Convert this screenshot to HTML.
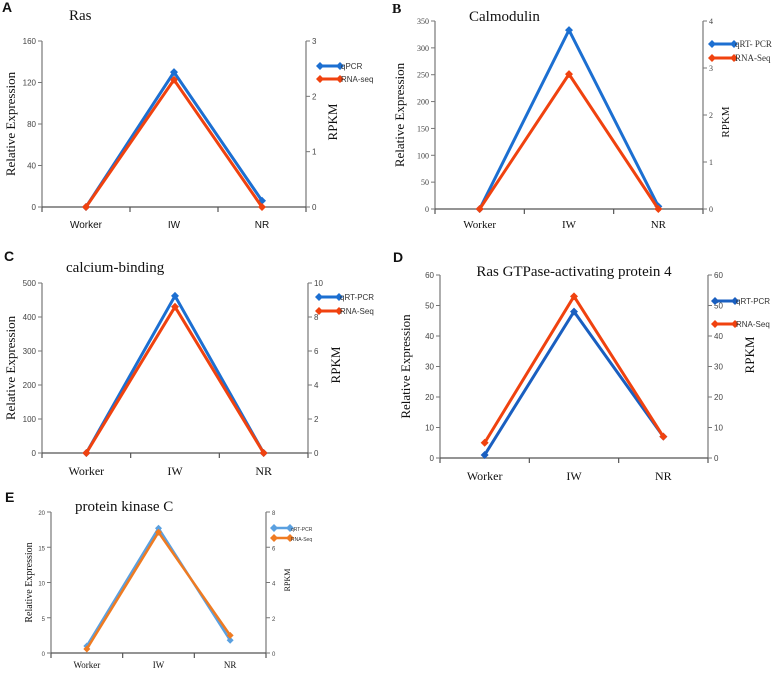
<!DOCTYPE html>
<html><head><meta charset="utf-8"><style>
body{margin:0;background:#fff;width:778px;height:670px;overflow:hidden}
svg text{font-family:"Liberation Serif",serif}
.s{font-family:"Liberation Sans",sans-serif !important}
</style></head><body>
<svg id="c" width="778" height="670" xmlns="http://www.w3.org/2000/svg"></svg>
<script>
const categories=["Worker","IW","NR"];
const qpcrA=[0,130,6], rnaA=[0,2.3,0];
const qpcrB=[0,333,5], rnaB=[0,2.87,0];
const qpcrC=[0,462,0], rnaC=[0,8.6,0];
const qpcrD=[1,48,7], rnaD=[5,53,7];
const qpcrE=[1,17.7,1.8], rnaE=[0.23,6.85,1.0];
const ticksLA=[0,40,80,120,160], ticksRA=[0,1,2,3];
const ticksLB=[0,50,100,150,200,250,300,350], ticksRB=[0,1,2,3,4];
const ticksLC=[0,100,200,300,400,500], ticksRC=[0,2,4,6,8,10];
const ticksLD=[0,10,20,30,40,50,60], ticksRD=[0,10,20,30,40,50,60];
const ticksLE=[0,5,10,15,20], ticksRE=[0,2,4,6,8];
const namesA=["qPCR","RNA-seq"], namesB=["qRT- PCR","RNA-Seq"], namesC=["qRT-PCR","RNA-Seq"], namesD=["qRT-PCR","RNA-Seq"], namesE=["qRT-PCR","RNA-Seq"];

const svg=document.getElementById('c');
const NS='http://www.w3.org/2000/svg';
function mk(tag,attrs,parent,text){const e=document.createElementNS(NS,tag);for(const k in attrs)e.setAttribute(k,attrs[k]);if(text!==undefined)e.textContent=text;(parent||svg).appendChild(e);return e;}

function panel(p){
  const g=mk('g',{});
  
  
  const lmax=p.tl[p.tl.length-1], rmax=p.tr[p.tr.length-1];
  const yL=v=>p.b-(v/lmax)*(p.b-p.t);
  const yR=v=>p.b-(v/rmax)*(p.b-p.t);
  const w=(p.r-p.l)/categories.length;
  const xC=i=>p.l+w*(i+0.5);
  const ax='#777';
  // axes
  let e=mk('line',{x1:p.l,y1:p.t,x2:p.l,y2:p.b,stroke:ax,'stroke-width':1.2},g);
  
  e=mk('line',{x1:p.r,y1:p.t,x2:p.r,y2:p.b,stroke:ax,'stroke-width':1.2},g);
  
  e=mk('line',{x1:p.l,y1:p.b,x2:p.r,y2:p.b,stroke:'#555','stroke-width':1.2},g);
  
  for(let i=0;i<=categories.length;i++){const x=p.l+w*i;mk('line',{x1:x,y1:p.b,x2:x,y2:p.b+5,stroke:'#555','stroke-width':1.2},g);}
  p.tl.forEach(v=>{mk('line',{x1:p.l-4,y1:yL(v),x2:p.l,y2:yL(v),stroke:ax},g);
    e=mk('text',{x:p.l-6,y:yL(v)+3,'font-size':p.fs,'text-anchor':'end',fill:'#444',class:p.tickSans?'s':''},g,v);
    });
  p.tr.forEach(v=>{mk('line',{x1:p.r,y1:yR(v),x2:p.r+4,y2:yR(v),stroke:ax},g);
    e=mk('text',{x:p.r+6,y:yR(v)+3,'font-size':p.fs,fill:'#444',class:p.tickSans?'s':''},g,v);
    });
  categories.forEach((c,i)=>{e=mk('text',{x:xC(i),y:p.xly,'font-size':p.xfs,'text-anchor':'middle',fill:'#111',class:p.xSans?'s':''},g,c);
    });
  // series
  const ser=[[p.q,yL,p.c1],[p.rn,yR,p.c2]];
  ser.forEach((s,si)=>{
    const pts=s[0].map((v,i)=>xC(i)+','+s[1](v)).join(' ');
    e=mk('polyline',{points:pts,fill:'none',stroke:s[2],'stroke-width':p.lw,'stroke-linejoin':'miter'},g);
    
    s[0].forEach((v,i)=>{const x=xC(i),y=s[1](v),r=p.lw+1;
      e=mk('polygon',{points:`${x},${y-r} ${x+r},${y} ${x},${y+r} ${x-r},${y}`,fill:s[2]},g);
      });
  });
  // legend
  [[p.n[0],p.c1,p.ly1],[p.n[1],p.c2,p.ly2]].forEach((L,i)=>{
    const lg=mk('g',{},g);
    
    mk('line',{x1:p.lx,y1:L[2],x2:p.lx+p.llen,y2:L[2],stroke:L[1],'stroke-width':p.lw},lg);
    [p.lx,p.lx+p.llen].forEach(x=>mk('polygon',{points:`${x},${L[2]-4} ${x+4},${L[2]} ${x},${L[2]+4} ${x-4},${L[2]}`,fill:L[1]},lg));
    mk('text',{x:p.lx+p.llen+1,y:L[2]+3,'font-size':p.lfs,fill:'#333',class:p.legSans?'s':''},lg,L[0]);
  });
  e=mk('text',{x:p.titleX,y:p.titleY,'font-size':p.tfs,fill:'#111','text-anchor':p.titleAnchor||'start'},g,p.title);
  
  e=mk('text',{x:p.letX,y:p.letY,'font-size':14,'font-weight':'bold',fill:'#111',class:p.letSans?'s':''},g,p.id);
  
  const my=(p.t+p.b)/2;
  e=mk('text',{x:p.ylx,y:my,'font-size':p.yfs,'text-anchor':'middle',fill:'#111',transform:`rotate(-90 ${p.ylx} ${my})`},g,'Relative Expression');
  
  e=mk('text',{x:p.rlx,y:p.rly,'font-size':p.rfs,'text-anchor':'middle',fill:'#111',transform:`rotate(-90 ${p.rlx} ${p.rly})`},g,'RPKM');
  
}
const blue='#1c6fd1', red='#f0420f';
panel({id:'A',l:42,r:306,t:41,b:207,tl:ticksLA,tr:ticksRA,q:qpcrA,rn:rnaA,n:namesA,c1:blue,c2:red,lw:3,fs:8,tickSans:true,xfs:10,xly:228,xSans:true,
  lx:320,llen:20,ly1:66,ly2:79,lfs:8,legSans:true,title:'Ras',titleX:69,titleY:20,tfs:15,letX:2,letY:12,letSans:true,ylx:15,yfs:13,rlx:337,rly:122,rfs:13});
panel({id:'B',l:435,r:703,t:21,b:209,tl:ticksLB,tr:ticksRB,q:qpcrB,rn:rnaB,n:namesB,c1:blue,c2:red,lw:3,fs:8,xfs:11,xly:228,
  lx:712,llen:22,ly1:44,ly2:58,lfs:9,title:'Calmodulin',titleX:469,titleY:21,tfs:15,letX:392,letY:13,ylx:404,yfs:13,rlx:729,rly:122,rfs:11});
panel({id:'C',l:42,r:308,t:283,b:453,tl:ticksLC,tr:ticksRC,q:qpcrC,rn:rnaC,n:namesC,c1:blue,c2:red,lw:3,fs:8,tickSans:true,xfs:12,xly:475,
  lx:319,llen:20,ly1:297,ly2:311,lfs:8,legSans:true,title:'calcium-binding',titleX:66,titleY:272,tfs:15,letX:4,letY:261,letSans:true,ylx:15,yfs:13,rlx:340,rly:365,rfs:13});
panel({id:'D',l:440,r:708,t:275,b:458,tl:ticksLD,tr:ticksRD,q:qpcrD,rn:rnaD,n:namesD,c1:'#1a5fc0',c2:red,lw:3,fs:8,tickSans:true,xfs:12,xly:480,
  lx:715,llen:20,ly1:301,ly2:324,lfs:8,legSans:true,title:'Ras GTPase-activating protein 4',titleX:574,titleY:276,tfs:15,titleAnchor:'middle',letX:393,letY:262,letSans:true,ylx:410,yfs:13,rlx:754,rly:355,rfs:13});
panel({id:'E',l:51,r:266,t:512,b:653,tl:ticksLE,tr:ticksRE,q:qpcrE,rn:rnaE,n:namesE,c1:'#5aa0e0',c2:'#ef7b22',lw:2.5,fs:6,tickSans:true,xfs:9,xly:668,
  lx:274,llen:16,ly1:528,ly2:538,lfs:5,legSans:true,title:'protein kinase C',titleX:75,titleY:511,tfs:15,letX:5,letY:502,letSans:true,ylx:32,yfs:10,rlx:290,rly:580,rfs:8});
</script>
</body></html>
